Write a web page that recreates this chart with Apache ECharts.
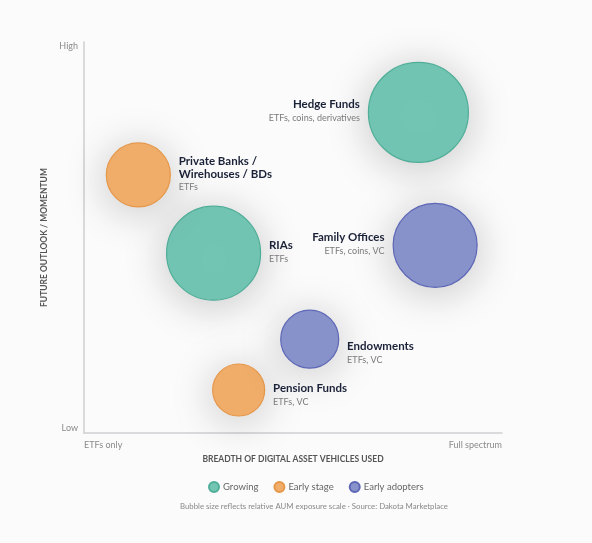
<!DOCTYPE html>
<html><head><meta charset="utf-8">
<script src="https://cdn.jsdelivr.net/npm/echarts@6/dist/echarts.min.js"></script>
<style>html,body{margin:0;padding:0;background:#fbfbfb;}#c{width:592px;height:543px;}</style>
</head><body><div id="c"></div>
<script>
// Data
const names = ["Hedge Funds", "Family Offices", "Private Banks /\nWirehouses / BDs", "RIAs", "Endowments", "Pension Funds"];
const vehicles = ["ETFs, coins, derivatives", "ETFs, coins, VC", "ETFs", "ETFs", "ETFs, VC", "ETFs, VC"];
const breadth = [80, 84, 13, 31, 54, 37];      // x: breadth of vehicles (0 = ETFs only, 100 = full spectrum)
const outlook = [82, 48, 66, 46, 24, 11];      // y: future outlook / momentum (0 = low, 100 = high)
const aum = [100, 84, 64, 94, 58, 52];         // relative AUM exposure scale
const stage = ["Growing", "Early adopters", "Early stage", "Growing", "Early adopters", "Early stage"];
const labelSide = ["left", "left", "right", "right", "right", "right"];
const stages = ["Growing", "Early stage", "Early adopters"];
const xTickLabels = ["ETFs only", "Full spectrum"];
const yTickLabels = ["Low", "High"];

const colors = { "Growing": ["#73c5b3", "#4fae98"], "Early stage": ["#f1ae6a", "#e5974a"], "Early adopters": ["#8893cb", "#5d67b6"] };
const labelShiftDown = { "Endowments": 15, "Pension Funds": 6 };

const chart = echarts.init(document.getElementById('c'));
const series = stages.map(st => {
  const idx = names.map((n, i) => i).filter(i => stage[i] === st);
  return {
    name: st,
    type: 'scatter',
    data: idx.map(i => {
      const left = labelSide[i] === 'left';
      const al = left ? 'right' : 'left';
      const sz = aum[i];
      const dy = labelShiftDown[names[i]] || 0;
      return {
        name: names[i],
        value: [breadth[i], outlook[i], aum[i]],
        label: {
          show: true,
          position: left ? [-8, sz / 2 + dy] : [sz + 9, sz / 2 + dy],
          align: al,
          verticalAlign: 'middle',
          formatter: () => names[i].split('\n').map(l => '{n|' + l + '}').join('\n') + '\n{s|' + vehicles[i] + '}',
          rich: {
            n: { fontFamily: 'Lato', fontWeight: 'bold', fontSize: 11.5, color: '#1b2238', lineHeight: 13, align: al },
            s: { fontFamily: 'Lato', fontSize: 9, color: '#7a7a7a', lineHeight: 14, align: al }
          }
        }
      };
    }),
    symbolSize: v => v[2],
    itemStyle: {
      color: colors[st][0],
      borderColor: colors[st][1],
      borderWidth: 1.2,
      opacity: 1,
      shadowBlur: 44,
      shadowColor: 'rgba(0,0,0,0.22)',
      shadowOffsetY: 5
    },
    emphasis: { disabled: true }
  };
});

chart.setOption({
  backgroundColor: '#fbfbfb',
  animation: false,
  color: stages.map(s => colors[s][0]),
  grid: { left: 84, right: 90, top: 42, bottom: 110 },
  xAxis: {
    type: 'value', min: 0, max: 100, interval: 100,
    name: 'BREADTH OF DIGITAL ASSET VEHICLES USED',
    nameLocation: 'middle', nameGap: 21,
    nameTextStyle: { fontFamily: 'Lato', fontWeight: 'bold', fontSize: 8.5, color: '#555' },
    axisLine: { lineStyle: { color: '#cfcfd3', width: 1.5 } },
    axisTick: { show: false },
    splitLine: { show: false },
    axisLabel: {
      fontFamily: 'Lato', fontSize: 9, color: '#8a8a8a', margin: 8,
      alignMinLabel: 'left', alignMaxLabel: 'right',
      formatter: v => v === 0 ? xTickLabels[0] : xTickLabels[1]
    }
  },
  yAxis: {
    type: 'value', min: 0, max: 100, interval: 100,
    name: 'FUTURE OUTLOOK / MOMENTUM',
    nameLocation: 'middle', nameGap: 30, nameRotate: 90,
    nameTextStyle: { fontFamily: 'Lato', fontWeight: 'bold', fontSize: 8.5, color: '#555' },
    axisLine: { show: true, lineStyle: { color: '#cfcfd3', width: 1.5 } },
    axisTick: { show: false },
    splitLine: { show: false },
    axisLabel: {
      fontFamily: 'Lato', fontSize: 9, color: '#8a8a8a', margin: 6,
      verticalAlignMinLabel: 'bottom', verticalAlignMaxLabel: 'top',
      formatter: v => v === 0 ? yTickLabels[0] : yTickLabels[1]
    }
  },
  legend: {
    data: stages,
    left: 203, top: 476,
    icon: 'circle', itemWidth: 10, itemHeight: 10, itemGap: 15,
    textStyle: { fontFamily: 'Lato', fontSize: 9.5, color: '#666', padding: [0, 0, 0, -1] }
  },
  graphic: [{
    type: 'text', left: 180, top: 502,
    style: { text: 'Bubble size reflects relative AUM exposure scale · Source: Dakota Marketplace', fontFamily: 'Lato', fontSize: 7.8, fill: '#888' }
  }],
  series
});
</script></body></html>
